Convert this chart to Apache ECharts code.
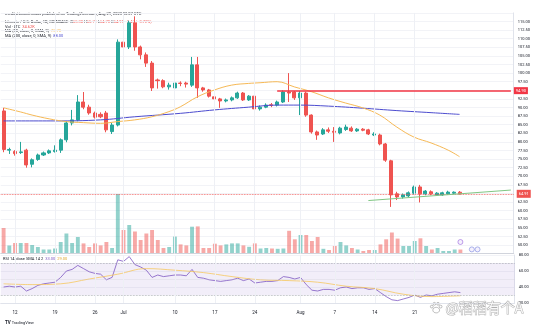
<!DOCTYPE html>
<html>
<head>
<meta charset="utf-8">
<script src="https://cdn.jsdelivr.net/npm/echarts@6.0.0/dist/echarts.min.js"></script>
<style>
html,body{margin:0;padding:0;background:#fff;}
#c{width:533px;height:329px;}
</style>
</head>
<body>
<div id="c"></div>
<script>
// Daily LTC/USD bars, Coinbase, 10 Jun 2023 onward (plus empty days to the right)
const firstDay = Date.UTC(2023, 5, 10);
const dayCount = 90;
const dates = [];
for (let i = 0; i < dayCount; i++) {
  dates.push(new Date(firstDay + i * 86400000).toISOString().slice(0, 10));
}

// [open, high, low, close]
const candles = [
  [89.0, 89.9, 77.0, 77.8], [77.6, 78.3, 76.5, 77.8], [77.2, 77.6, 76.0, 76.6], [76.9, 80.0, 76.5, 77.1],
  [77.6, 78.0, 72.5, 73.3], [73.5, 75.2, 72.6, 74.8], [74.9, 76.6, 74.5, 76.2], [76.2, 77.2, 75.9, 76.8],
  [76.8, 77.8, 76.5, 77.4], [77.2, 79.0, 76.9, 77.6], [77.6, 81.0, 76.8, 80.6], [80.6, 86.0, 79.9, 85.5],
  [85.5, 89.3, 84.8, 86.4], [86.4, 93.6, 86.0, 91.6], [91.6, 94.5, 89.5, 90.1], [90.1, 90.8, 87.9, 88.4],
  [88.4, 88.8, 86.8, 87.2], [88.0, 88.6, 86.9, 87.3], [88.4, 89.0, 82.8, 83.5], [83.0, 85.5, 82.3, 84.9],
  [84.9, 109.8, 84.5, 109.0], [109.0, 109.6, 106.4, 107.6], [107.6, 115.2, 107.0, 114.6], [114.6, 116.5, 106.5, 107.6],
  [107.6, 108.0, 104.0, 105.3], [105.3, 106.0, 101.8, 102.9], [102.9, 103.5, 94.8, 95.7], [98.0, 98.4, 95.5, 97.8],
  [97.8, 98.2, 95.6, 96.0], [96.0, 97.2, 95.2, 96.5], [95.7, 97.5, 92.8, 97.1], [97.1, 97.6, 96.2, 97.0],
  [97.1, 97.5, 95.8, 96.8], [96.5, 104.7, 96.0, 102.4], [102.4, 104.7, 92.8, 95.7], [95.7, 96.0, 94.6, 95.1],
  [95.1, 95.4, 92.9, 93.3], [93.1, 93.5, 92.0, 92.5], [92.5, 92.8, 89.9, 91.9], [91.9, 92.6, 91.5, 92.2],
  [92.2, 93.2, 91.8, 92.8], [92.8, 94.6, 92.5, 94.2], [94.2, 94.5, 91.9, 92.2], [92.2, 93.6, 91.9, 93.3],
  [93.3, 93.6, 89.2, 89.6], [89.6, 90.6, 89.1, 90.1], [90.1, 91.2, 89.8, 90.7], [90.8, 91.3, 90.1, 90.6],
  [90.7, 92.0, 90.3, 91.6], [91.6, 95.0, 91.3, 94.5], [94.5, 100.0, 91.6, 94.2], [94.5, 94.8, 92.2, 92.8],
  [92.8, 94.8, 87.8, 94.2], [94.2, 94.6, 87.3, 87.8], [87.8, 88.0, 82.4, 82.9], [82.9, 83.3, 80.6, 82.0],
  [82.3, 84.0, 82.0, 83.5], [83.5, 84.2, 82.6, 83.1], [83.1, 84.3, 80.0, 82.8], [82.6, 84.4, 82.2, 84.0],
  [83.6, 85.0, 83.2, 84.3], [84.0, 84.5, 82.9, 83.2], [83.2, 84.0, 82.9, 83.7], [83.7, 84.0, 83.1, 83.4],
  [83.5, 83.8, 82.0, 82.3], [82.0, 82.8, 81.7, 82.3], [82.0, 82.4, 79.0, 79.4], [79.4, 79.7, 74.2, 74.7],
  [74.5, 74.8, 61.1, 64.6], [64.9, 65.5, 63.1, 64.0], [64.0, 65.0, 63.5, 64.6], [64.3, 65.6, 63.9, 65.2],
  [65.1, 67.3, 64.7, 66.9], [66.9, 67.5, 62.4, 64.9], [64.9, 66.0, 64.5, 65.7], [65.5, 65.9, 64.5, 64.9],
  [64.6, 65.4, 64.3, 65.1], [64.6, 65.5, 64.3, 65.2], [64.9, 65.8, 64.6, 65.4], [65.1, 65.6, 64.8, 65.38],
  [65.38, 65.71, 64.70, 64.91]
];

// daily volume, thousand LTC
const volumes = [
  250, 75, 100, 100, 100, 80, 60, 35, 35, 45, 110, 195, 100, 160, 96, 60, 96, 76, 110, 50,
  590, 230, 280, 215, 130, 195, 230, 130, 50, 60, 164, 86, 76, 263, 266, 50, 50, 93, 76, 86,
  96, 96, 76, 62, 96, 45, 50, 45, 42, 45, 222, 137, 180, 180, 120, 160, 42, 30, 70, 110,
  76, 50, 35, 20, 30, 30, 86, 137, 205, 144, 70, 70, 120, 147, 70, 35, 50, 20, 20, 35, 34.62
];

// moving averages sampled along the bars (gaps are bridged by the line)
const ma50 = [
  89.9, null, null, 88.7, null, 87.8, null, null, 86.7, null, null, 85.9, null, null, 85.6, null, null, 85.4, null, null,
  85.9, null, null, 86.4, null, null, 87.3, null, null, 88.8, null, 90.2, null, null, 93.1, null, null, 95.1, null, null,
  96.5, null, null, 97.0, null, 97.2, null, null, 97.5, null, null, 96.0, null, null, 94.6, null, null, 92.8, null, null,
  91.3, null, null, 89.9, null, null, 87.8, null, null, 84.3, null, null, 81.4, null, null, 79.7, null, null, 77.6, null, 75.7
];
const ma200 = [
  86.1, null, null, null, null, null, null, null, null, 86.1, null, null, null, null, null, null, null, 86.4, null, null,
  null, null, null, 87.3, null, null, null, null, null, null, null, 88.3, null, null, null, null, null, 89.3, null, null,
  null, null, null, 90.1, null, null, null, null, 90.7, null, null, null, 90.7, null, null, null, null, 90.4, null, null,
  null, null, null, 89.8, null, null, null, null, null, 89.1, null, null, null, null, null, 88.5, null, null, null, null, 88.0
];

// RSI(14) and its SMA(14)
const rsi = [
  40, 41, 40, 41, 35, 38, 42, 44, 45, 46, 52, 60, 62, 67, 63, 59, 57, 56, 49, 52,
  74, 72, 78, 68, 65, 61, 52, 55, 53, 54, 55, 55, 54, 62, 52, 51, 49, 48, 47, 48,
  49, 51, 48, 50, 45, 46, 47, 47, 48, 53, 52, 50, 52, 43, 36, 35, 37, 37, 36, 39,
  40, 38, 39, 39, 37, 38, 33, 28, 24, 23, 25, 27, 30, 27, 30, 29, 31, 32, 33, 34, 33
];
const rsiMa = [
  44, null, null, null, null, 43, null, null, null, null, 44, null, null, null, null, 50, null, null, null, null,
  56, null, null, null, null, 63, null, null, null, null, 61, null, null, null, null, 58, null, null, null, null,
  53, null, null, null, null, 49, null, null, null, null, 48, null, null, null, null, 46, null, null, null, null,
  41, null, null, null, null, 38, null, null, null, null, 31, null, null, null, null, 28, null, null, null, null, 29
];

// drawn levels
const resistance = { from: '2023-07-28', to: '2023-09-07', price: 94.9 };
const supportTrend = [['2023-08-13', 62.95], ['2023-09-07', 66.0]];

// event badges on the volume pane: [date, height in volume units, colour]
const eventBadges = [['2023-08-29', 110, '#9c6ade'], ['2023-08-31', 36, '#7e8be0'], ['2023-09-01', 36, '#7e8be0']];

// time scale labels
const timeTickDates = ['2023-06-12', '2023-06-19', '2023-06-26', '2023-07-01', '2023-07-10', '2023-07-17',
  '2023-07-24', '2023-08-01', '2023-08-07', '2023-08-14', '2023-08-21'];
const timeTickTexts = ['12', '19', '26', 'Jul', '10', '17', '24', 'Aug', '7', '14', '21'];
const tickText = {};
timeTickDates.forEach((d, i) => { tickText[d] = timeTickTexts[i]; });

const UP = '#26a69a', DOWN = '#ef5350';
const last = candles[candles.length - 1];
const prevClose = candles[candles.length - 2][3];
const chg = last[3] - prevClose;

const FONT = 'Roboto, "Noto Sans", sans-serif';
const grid = { left: 0.75, width: 513.9 };

const vlines = timeTickDates.map(d => ({ xAxis: d }));
const vlineStyle = { color: '#eef0f5', width: 1, type: 'solid' };

const rich = (color) => ({
  n: { fontSize: 4, fill: '#131722', fontFamily: FONT },
  r: { fontSize: 4, fill: color, fontFamily: FONT }
});

// paw mark beside the signature
const pawStroke = { fill: 'rgba(255,255,255,0.9)', stroke: 'rgba(110,110,110,0.55)', lineWidth: 0.8 };

const chart = echarts.init(document.getElementById('c'));
chart.setOption({
  animation: false,
  backgroundColor: '#ffffff',
  textStyle: { fontFamily: FONT },
  grid: [
    { left: grid.left, width: grid.width, top: 12.9, height: 240.8 },
    { left: grid.left, width: grid.width, top: 190, height: 63 },
    { left: grid.left, width: grid.width, top: 255, height: 48 }
  ],
  xAxis: [
    { type: 'category', gridIndex: 0, data: dates, boundaryGap: true,
      axisLine: { show: true, lineStyle: { color: '#d1d4dc', width: 1 } },
      axisTick: { show: false }, axisLabel: { show: false }, splitLine: { show: false } },
    { type: 'category', gridIndex: 1, data: dates, boundaryGap: true, show: false },
    { type: 'category', gridIndex: 2, data: dates, boundaryGap: true,
      axisLine: { show: true, lineStyle: { color: '#e0e3eb', width: 1 } },
      axisTick: { show: false },
      axisLabel: { show: true, fontSize: 4.5, color: '#131722', margin: 7,
        interval: (idx, val) => tickText[val] !== undefined,
        formatter: v => tickText[v] || '' },
      splitLine: { show: false } }
  ],
  yAxis: [
    { type: 'value', gridIndex: 0, position: 'right', min: 47.5, max: 117.5, interval: 2.5,
      axisLine: { show: true, lineStyle: { color: '#e0e3eb' } }, axisTick: { show: false },
      axisLabel: { fontSize: 4, color: '#131722', margin: 4,
        formatter: v => (v <= 47.5 || v >= 117.5) ? '' : v.toFixed(2) },
      splitLine: { show: true, lineStyle: { color: '#f2f3f7', width: 1 } } },
    { type: 'value', gridIndex: 1, min: 0, max: 630, show: false },
    { type: 'value', gridIndex: 2, position: 'right', min: 20, max: 80, interval: 20,
      axisLine: { show: true, lineStyle: { color: '#e0e3eb' } }, axisTick: { show: false },
      axisLabel: { fontSize: 4, color: '#131722', margin: 4, formatter: v => v.toFixed(2) },
      splitLine: { show: true, lineStyle: { color: '#f2f3f7', width: 1 } } }
  ],
  series: [
    {
      name: 'Volume', type: 'bar', xAxisIndex: 1, yAxisIndex: 1, barWidth: '68%',
      data: volumes.map((v, i) => ({
        value: v,
        itemStyle: { color: candles[i][3] >= candles[i][0] ? 'rgba(38,166,154,0.5)' : 'rgba(239,83,80,0.5)' }
      })),
      silent: true
    },
    {
      name: 'Events', type: 'scatter', xAxisIndex: 1, yAxisIndex: 1, symbol: 'circle', symbolSize: 5,
      data: eventBadges.map(e => ({ value: [e[0], e[1]],
        itemStyle: { color: '#f3eefc', borderColor: e[2], borderWidth: 0.8 } })),
      silent: true, z: 5
    },
    {
      name: 'MA200', type: 'line', xAxisIndex: 0, yAxisIndex: 0, data: ma200, connectNulls: true,
      smooth: 0.4, showSymbol: false, lineStyle: { color: '#4c4ccf', width: 1 }, silent: true,
      markLine: { silent: true, symbol: 'none', label: { show: false }, lineStyle: vlineStyle, data: vlines }
    },
    {
      name: 'MA50', type: 'line', xAxisIndex: 0, yAxisIndex: 0, data: ma50, connectNulls: true,
      smooth: 0.4, showSymbol: false, lineStyle: { color: '#f6b956', width: 1 }, silent: true
    },
    {
      name: 'LTCUSD', type: 'candlestick', xAxisIndex: 0, yAxisIndex: 0, barWidth: '62%',
      data: candles.map(c => [c[0], c[3], c[2], c[1]]),
      itemStyle: { color: UP, color0: DOWN, borderColor: UP, borderColor0: DOWN, borderWidth: 1 },
      markLine: {
        silent: true, symbol: 'none',
        data: [
          { yAxis: last[3],
            lineStyle: { color: DOWN, type: 'dotted', width: 0.8 },
            label: { show: true, position: 'end', distance: 3, formatter: last[3].toFixed(2),
              backgroundColor: DOWN, color: '#fff', fontSize: 4, padding: [2, 2] } },
          { yAxis: last[3],
            lineStyle: { color: DOWN, type: 'dotted', width: 0.8, opacity: 0 },
            label: { show: true, position: 'insideEnd', distance: 0, formatter: 'LTCUSD',
              backgroundColor: DOWN, color: '#fff', fontSize: 3.5, padding: [1, 1.5] } },
          [
            { coord: [resistance.from, resistance.price] },
            { coord: [resistance.to, resistance.price],
              lineStyle: { color: '#f23645', width: 1.5, type: 'solid' },
              label: { show: true, position: 'end', distance: 3, formatter: resistance.price.toFixed(2),
                backgroundColor: '#f23645', color: '#fff', fontSize: 4, padding: [1.5, 2] } }
          ],
          [
            { coord: supportTrend[0] },
            { coord: supportTrend[1], lineStyle: { color: '#81c784', width: 1, type: 'solid' },
              label: { show: false } }
          ]
        ]
      }
    },
    {
      name: 'RSI', type: 'line', xAxisIndex: 2, yAxisIndex: 2, data: rsi, showSymbol: false,
      lineStyle: { color: '#7e57c2', width: 0.8 }, silent: true,
      markArea: { silent: true, itemStyle: { color: 'rgba(126,87,194,0.1)' },
        data: [[{ yAxis: 70 }, { yAxis: 30 }]] },
      markLine: { silent: true, symbol: 'none', label: { show: false },
        data: [
          { yAxis: 70, lineStyle: { color: '#9598a1', type: 'dashed', width: 0.5 } },
          { yAxis: 50, lineStyle: { color: '#c3c5cc', type: 'dotted', width: 0.5 } },
          { yAxis: 30, lineStyle: { color: '#9598a1', type: 'dashed', width: 0.5 } }
        ].concat(vlines.map(v => Object.assign({ lineStyle: vlineStyle }, v))) }
    },
    {
      name: 'RSI MA', type: 'line', xAxisIndex: 2, yAxisIndex: 2, data: rsiMa, connectNulls: true,
      smooth: 0.4, showSymbol: false, lineStyle: { color: '#f6c85f', width: 0.8 }, silent: true
    }
  ],
  graphic: [
    { type: 'text', left: 5, top: 12, silent: true,
      style: { text: 'meditationcoinmaxx published on TradingView.com, Aug 29, 2023 03:07 UTC',
        font: '4px ' + FONT, fill: '#131722' } },
    { type: 'text', left: 5, top: 19.5, silent: true,
      style: {
        text: '{n|Litecoin / U.S. Dollar, 1D, COINBASE  }{n|O}{r|' + last[0].toFixed(2) + '}{n| H}{r|' + last[1].toFixed(2) +
          '}{n| L}{r|' + last[2].toFixed(2) + '}{n| C}{r|' + last[3].toFixed(2) + ' ' + (chg < 0 ? '−' : '+') +
          Math.abs(chg).toFixed(2) + ' (' + (chg < 0 ? '−' : '+') + Math.abs(chg / prevClose * 100).toFixed(2) + '%)}',
        rich: rich(DOWN)
      } },
    { type: 'text', left: 5, top: 24.5, silent: true,
      style: { text: '{n|Vol · LTC  }{r|' + volumes[volumes.length - 1].toFixed(2) + 'K}', rich: rich(DOWN) } },
    { type: 'text', left: 5, top: 29, silent: true,
      style: { text: '{n|MA (50, close, 0, SMA, 9)  }{r|' + ma50[ma50.length - 1].toFixed(2) + '}', rich: rich('#f6b956') } },
    { type: 'text', left: 5, top: 33.5, silent: true,
      style: { text: '{n|MA (200, close, 0, SMA, 9)  }{r|' + ma200[ma200.length - 1].toFixed(2) + '}', rich: rich('#4c4ccf') } },
    { type: 'text', left: 3, top: 257, silent: true,
      style: { text: '{n|RSI 14 close SMA 14 2  }{p|' + rsi[rsi.length - 1].toFixed(2) + '}{n|  }{y|' + rsiMa[rsiMa.length - 1].toFixed(2) + '}',
        rich: { n: { fontSize: 4, fill: '#131722', fontFamily: FONT }, p: { fontSize: 4, fill: '#7e57c2', fontFamily: FONT },
          y: { fontSize: 4, fill: '#e0a82e', fontFamily: FONT } } } },
    { type: 'text', left: 5, top: 320.5, silent: true,
      style: { text: '{b|TV}{n| TradingView}',
        rich: { b: { fontSize: 4.5, fontWeight: 'bold', fill: '#131722', fontFamily: FONT },
          n: { fontSize: 4, fill: '#131722', fontFamily: FONT } } } },
    { type: 'group', left: 430, top: 302, silent: true, z: 100,
      children: [
        { type: 'ellipse', shape: { cx: 6, cy: 8.5, rx: 3.4, ry: 2.8 }, style: pawStroke },
        { type: 'circle', shape: { cx: 1.6, cy: 5, r: 1.4 }, style: pawStroke },
        { type: 'circle', shape: { cx: 4.2, cy: 2.2, r: 1.4 }, style: pawStroke },
        { type: 'circle', shape: { cx: 7.8, cy: 2.2, r: 1.4 }, style: pawStroke },
        { type: 'circle', shape: { cx: 10.4, cy: 5, r: 1.4 }, style: pawStroke }
      ] },
    { type: 'text', left: 445, top: 300, silent: true, z: 100,
      style: { text: '@稻稻有个A', font: '14px "Noto Sans CJK SC", sans-serif',
        fill: 'rgba(255,255,255,0.9)', stroke: 'rgba(110,110,110,0.55)', lineWidth: 1 } }
  ]
});
</script>
</body>
</html>
